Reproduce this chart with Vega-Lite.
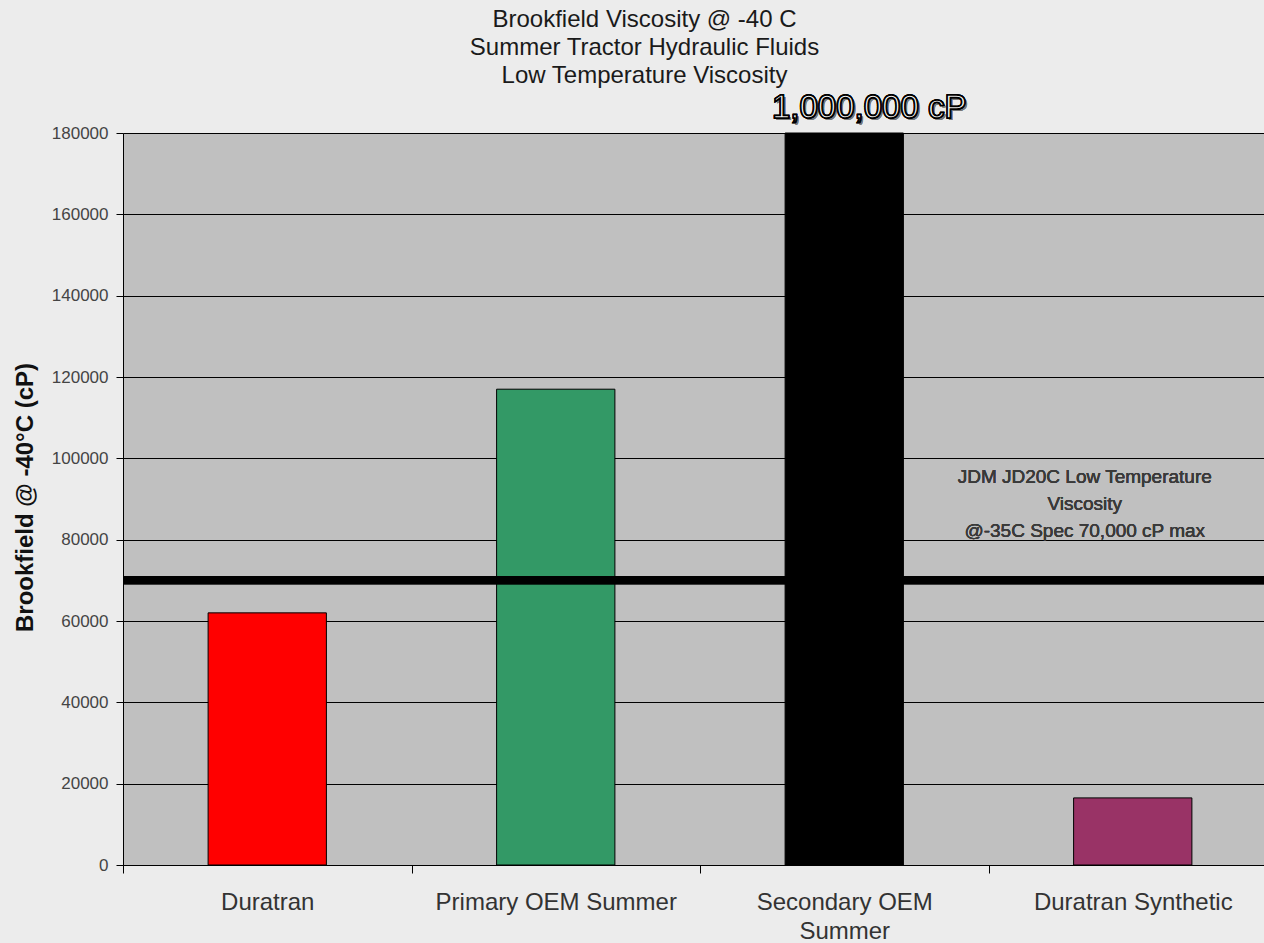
{
  "$schema": "https://vega.github.io/schema/vega-lite/v6.json",
  "autosize": {"type": "none"},
  "padding": {"left": 123, "top": 133, "right": 0, "bottom": 78},
  "width": 1141,
  "height": 732,
  "background": "#ececec",
  "title": {
    "text": ["Brookfield Viscosity @ -40 C", "Summer Tractor Hydraulic Fluids", "Low Temperature Viscosity"],
    "font": "Liberation Sans",
    "fontSize": 24,
    "fontWeight": "normal",
    "color": "#1a1a1a",
    "lineHeight": 28,
    "baseline": "bottom",
    "anchor": "middle",
    "offset": -20,
    "dx": -49
  },
  "config": {
    "view": {"fill": "#c0c0c0", "stroke": null},
    "font": "Liberation Sans"
  },
  "data": {
    "values": [
      {"fluid": "Duratran", "viscosity": 62000},
      {"fluid": "Primary OEM Summer", "viscosity": 117000},
      {"fluid": "Secondary OEM Summer", "viscosity": 1000000},
      {"fluid": "Duratran Synthetic", "viscosity": 16500}
    ]
  },
  "layer": [
    {
      "mark": {"type": "bar", "stroke": "#000000", "strokeWidth": 1, "width": {"band": 0.41}},
      "encoding": {
        "x": {
          "field": "fluid",
          "type": "nominal",
          "sort": null,
          "scale": {"range": [0, 1154], "paddingInner": 0, "paddingOuter": 0},
          "axis": {
            "title": null,
            "labelAngle": 0,
            "labelFontSize": 24,
            "labelColor": "#333333",
            "labelPadding": 17,
            "labelLineHeight": 29,
            "labelBaseline": "top",
            "labelLimit": 0,
            "tickBand": "extent",
            "tickSize": 8,
            "tickColor": "#000000",
            "domainColor": "#000000",
            "labelExpr": "datum.label == 'Secondary OEM Summer' ? ['Secondary OEM', 'Summer'] : datum.label"
          }
        },
        "y": {
          "field": "viscosity",
          "type": "quantitative",
          "scale": {"domain": [0, 180000], "clamp": true, "nice": false},
          "axis": {
            "values": [0, 20000, 40000, 60000, 80000, 100000, 120000, 140000, 160000, 180000],
            "format": "d",
            "title": "Brookfield @ -40°C (cP)",
            "titleFontSize": 24,
            "titleFontWeight": "bold",
            "titleColor": "#111111",
            "titleAngle": -90,
            "titleAlign": "center",
            "titleBaseline": "alphabetic",
            "titleX": -91,
            "titleY": 364,
            "labelFontSize": 17,
            "labelColor": "#444444",
            "labelPadding": 8,
            "tickSize": 7,
            "tickColor": "#000000",
            "domainColor": "#000000",
            "grid": true,
            "gridColor": "#000000",
            "gridWidth": 1,
            "gridOpacity": 1
          }
        },
        "color": {
          "field": "fluid",
          "type": "nominal",
          "scale": {
            "domain": ["Duratran", "Primary OEM Summer", "Secondary OEM Summer", "Duratran Synthetic"],
            "range": ["#ff0000", "#339966", "#000000", "#993366"]
          },
          "legend": null
        }
      }
    },
    {
      "mark": {"type": "rule", "color": "#000000", "strokeWidth": 8},
      "encoding": {"y": {"datum": 70000, "type": "quantitative"}}
    },
    {
      "mark": {
        "type": "text",
        "align": "center",
        "baseline": "alphabetic",
        "fontSize": 19,
        "lineHeight": 27,
        "color": "#3a3a3a",
        "dx": -48,
        "text": ["JDM JD20C Low Temperature", "Viscosity", "@-35C Spec 70,000 cP max"]
      },
      "encoding": {
        "x": {"datum": "Duratran Synthetic", "type": "nominal"},
        "y": {"datum": 94000, "type": "quantitative"}
      }
    },
    {
      "mark": {
        "type": "text",
        "align": "center",
        "baseline": "alphabetic",
        "font": "Liberation Sans",
        "fontSize": 33,
        "fill": "#777777",
        "dx": 27,
        "dy": -13,
        "text": "1,000,000 cP"
      },
      "encoding": {
        "x": {"datum": "Secondary OEM Summer", "type": "nominal"},
        "y": {"datum": 180000, "type": "quantitative"}
      }
    },
    {
      "mark": {
        "type": "text",
        "align": "center",
        "baseline": "alphabetic",
        "font": "Liberation Sans",
        "fontSize": 33,
        "fill": "#ffffff",
        "stroke": "#000000",
        "strokeWidth": 1.5,
        "dx": 25,
        "dy": -15,
        "text": "1,000,000 cP"
      },
      "encoding": {
        "x": {"datum": "Secondary OEM Summer", "type": "nominal"},
        "y": {"datum": 180000, "type": "quantitative"}
      }
    }
  ]
}
